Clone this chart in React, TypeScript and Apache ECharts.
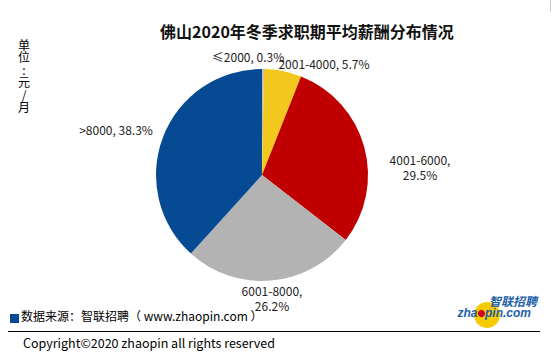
import React, { useEffect, useRef } from "react";
import * as echarts from "echarts";

const categories = ["≤2000", "2001-4000", "4001-6000", "6001-8000", ">8000"];
const shares = [0.3, 5.7, 29.5, 26.2, 38.3];
const colors = ["#BFBFBF", "#F2C81E", "#C00000", "#B3B3B3", "#064A94"];
const labelTexts = [
  "≤2000, 0.3%",
  "2001-4000, 5.7%",
  "4001-6000,\n29.5%",
  "6001-8000,\n26.2%",
  ">8000, 38.3%",
];
const unitChars = ["单", "位", ":", "元", "/", "月"];

const title = "佛山2020年冬季求职期平均薪酬分布情况";
const sourceText = "数据来源：智联招聘（ www.zhaopin.com ）";
const copyrightText = "Copyright©2020 zhaopin all rights reserved";

const labelPos = [
  { x: 248, y: 56 },
  { x: 324, y: 63 },
  { x: 420, y: 167 },
  { x: 272, y: 298 },
  { x: 116, y: 129 },
];

export default function App() {
  const ref = useRef<HTMLDivElement>(null);
  useEffect(() => {
    if (!ref.current) return;
    const chart = echarts.init(ref.current, null, { renderer: "svg" });
    const font = "'Noto Sans CJK SC', 'Noto Sans', sans-serif";
    const logoFont = "italic bold 12px 'Liberation Sans', Arial, sans-serif";
    const graphics: any[] = [
      {
        type: "text",
        style: {
          x: 307,
          y: 31,
          text: title,
          font: `bold 16px ${font}`,
          fill: "#111",
          align: "center",
          verticalAlign: "middle",
        },
      },
      {
        type: "text",
        style: {
          x: 24,
          y: 38,
          text: unitChars.join("\n"),
          font: `12px ${font}`,
          lineHeight: 12.5,
          fill: "#000",
          align: "center",
          verticalAlign: "top",
        },
      },
      {
        type: "rect",
        shape: { x: 10, y: 314, width: 9, height: 9 },
        style: { fill: "#064A94" },
      },
      {
        type: "text",
        style: {
          x: 21,
          y: 315,
          text: sourceText,
          font: `12px ${font}`,
          fill: "#000",
          verticalAlign: "middle",
        },
      },
      {
        type: "line",
        shape: { x1: 8, y1: 331.5, x2: 540, y2: 331.5 },
        style: { stroke: "#000", lineWidth: 1 },
      },
      {
        type: "text",
        style: {
          x: 23,
          y: 342,
          text: copyrightText,
          font: `12.5px ${font}`,
          fill: "#000",
          verticalAlign: "middle",
        },
      },
      {
        type: "line",
        shape: { x1: 550.5, y1: 0, x2: 550.5, y2: 12 },
        style: { stroke: "#ccc", lineWidth: 1 },
      },
      // logo
      {
        type: "circle",
        shape: { cx: 487, cy: 315, r: 13 },
        style: { fill: "#F8CB00" },
      },
      {
        type: "text",
        style: {
          x: 537,
          y: 300,
          text: "智联招聘",
          font: `italic bold 12px ${font}`,
          lineHeight: 12,
          fill: "#1F5FA8",
          align: "right",
          verticalAlign: "middle",
        },
      },
      {
        type: "text",
        style: {
          x: 477.5,
          y: 313,
          text: "zha",
          font: logoFont,
          lineHeight: 12,
          fill: "#1F5FA8",
          align: "right",
          verticalAlign: "middle",
        },
      },
      {
        type: "circle",
        shape: { cx: 481.5, cy: 313.5, r: 3.6 },
        style: { fill: "#D0021B" },
      },
      {
        type: "text",
        style: {
          x: 485,
          y: 313,
          text: "pin.com",
          font: logoFont,
          lineHeight: 12,
          fill: "#1F5FA8",
          align: "left",
          verticalAlign: "middle",
        },
      },
    ];
    chart.setOption({
      animation: false,
      backgroundColor: "#fff",
      graphic: graphics,
      series: [
        {
          type: "pie",
          center: [262, 175],
          radius: 106,
          startAngle: 90,
          clockwise: true,
          avoidLabelOverlap: false,
          data: categories.map((c, i) => ({
            name: c,
            value: shares[i],
            itemStyle: { color: colors[i] },
            label: { formatter: labelTexts[i] },
          })),
          label: {
            show: true,
            position: "outside",
            fontSize: 12,
            fontFamily: font,
            color: "#222",
            align: "center",
            lineHeight: 15,
          },
          labelLine: { show: false },
          labelLayout: (p: any) => ({
            x: labelPos[p.dataIndex].x,
            y: labelPos[p.dataIndex].y,
            align: "center",
            verticalAlign: "middle",
          }),
          emphasis: { disabled: true },
        },
      ],
    });
    return () => chart.dispose();
  }, []);
  return (
    <div
      ref={ref}
      style={{ position: "fixed", left: 0, top: 0, width: 553, height: 362 }}
    />
  );
}
